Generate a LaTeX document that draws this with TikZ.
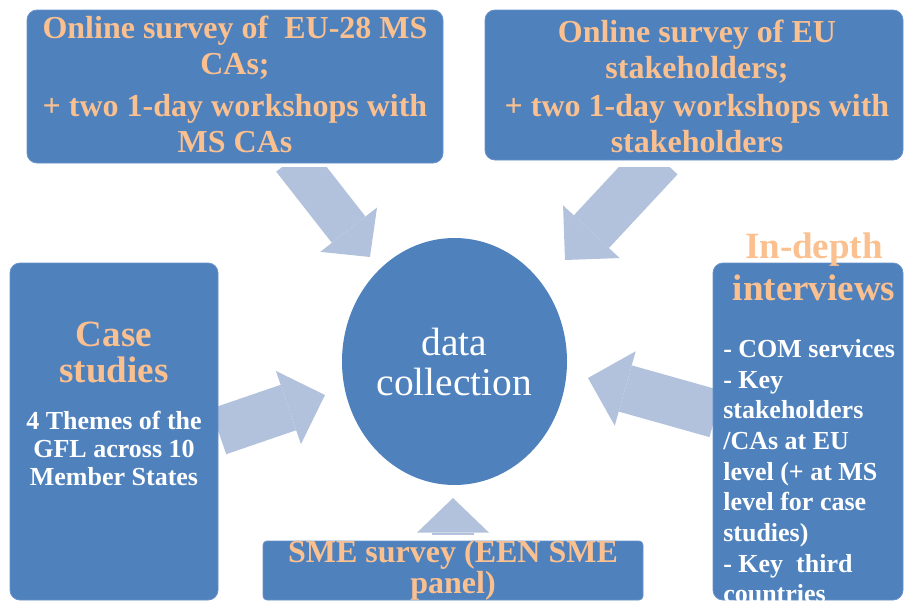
\documentclass[tikz,border=0pt]{standalone}
\usepackage{fontspec}
\setmainfont{Liberation Serif}
\usetikzlibrary{shapes.geometric,arrows.meta,backgrounds}

\definecolor{boxblue}{RGB}{79,129,189}
\definecolor{boxedge}{RGB}{104,146,201}
\definecolor{feedblue}{RGB}{178,193,220}
\definecolor{headorange}{RGB}{250,192,144}

\tikzset{
  srcbox/.style={draw=boxedge, line width=0.6pt, fill=boxblue, rounded corners=7.5pt, inner sep=0pt},
  headtxt/.style={text=headorange, font=\bfseries\fontsize{24}{27}\selectfont, align=center, inner sep=0pt},
  bodytxt/.style={text=white, font=\bfseries\fontsize{19.5}{21}\selectfont, inner sep=0pt},
  feed/.style={draw=feedblue, line width=36pt, -{Triangle[length=29pt,width=58pt,line width=0pt]}},
  smallfeed/.style={feed, line width=32pt, -{Triangle[length=26pt,width=54pt,line width=0pt]}},
}

\begin{document}
\begin{tikzpicture}[x=0.75pt,y=0.75pt,yscale=-1]
\useasboundingbox (0,0) rectangle (904,603);

% boxes
\node[srcbox, minimum width=312pt, minimum height=114.75pt] (msbox) at (235,86.5) {};
\node[srcbox, minimum width=313.5pt, minimum height=112.5pt] (eubox) at (694,85) {};
\node[srcbox, minimum width=156pt, minimum height=252.75pt] (case) at (114,431.5) {};
\node[srcbox, minimum width=142.5pt, minimum height=252.75pt] (iv) at (808,431.5) {};
\node[srcbox, rounded corners=3pt, minimum width=285pt, minimum height=44.25pt] (sme) at (453,570.5) {};

% centre
\node[ellipse, fill=boxblue, minimum width=168.75pt, minimum height=185.25pt, inner sep=0pt,
      text=white, align=center, font=\fontsize{29.6}{30}\selectfont] (hub) at (454.5,361.5) {data\\collection};

% Text Node
\node[headtxt] (mstxt) at (235,84.5) {Online survey of \ EU-28 MS\\CAs;\\[5pt]+ two 1-day workshops with\\MS CAs};
% Text Node
\node[headtxt] (eutxt) at (697,86.5) {Online survey of EU\\stakeholders;\\[2pt]+ two 1-day workshops with\\stakeholders};
% Text Node
\node[headtxt, font=\bfseries\fontsize{27.75}{27}\selectfont] (casehd) at (114,352.7) {Case\\studies};
% Text Node
\node[bodytxt, align=center] (casetxt) at (114,448.2) {4 Themes of the\\GFL across 10\\Member States};
% Text Node
\node[headtxt, font=\bfseries\fontsize{27.75}{31.5}\selectfont] (ivhd) at (814,266.5) {In-depth\\interviews};
% Text Node
\node[bodytxt, anchor=north west, align=left, font=\bfseries\fontsize{19.5}{23}\selectfont] (ivlist) at (723,339.3)
  {- COM services\\- Key\\stakeholders\\/CAs at EU\\level (+ at MS\\level for case\\studies)\\- Key \ third\\countries};
% Text Node
\node[headtxt, font=\bfseries\fontsize{24}{23.25}\selectfont] (smetxt) at (453,570) {SME survey (EEN SME\\panel)};

% arrow ends
\coordinate (mstail) at (293,158.5);
\coordinate (mstip) at (370,257);
\coordinate (eutail) at (660,158);
\coordinate (eutip) at (565,260);
\coordinate (casetip) at (325,395);
\coordinate (ivtail) at (716,414);
\coordinate (ivtip) at (588,378);
\coordinate (smetail) at (453,535);
\coordinate (smetip) at (453,498);

% block arrows into the hub
\begin{scope}[on background layer]
  \clip (0,167) rectangle (904,603);
  \draw[smallfeed] (mstail) -- (mstip);
  \draw[feed] (eutail) -- (eutip);
\end{scope}
\begin{scope}[on background layer]
  \draw[feed] (case.east) -- (casetip);
  \draw[feed] (ivtail) -- (ivtip);
  \draw[smallfeed] (smetail) -- (smetip);
\end{scope}
\end{tikzpicture}
\end{document}
